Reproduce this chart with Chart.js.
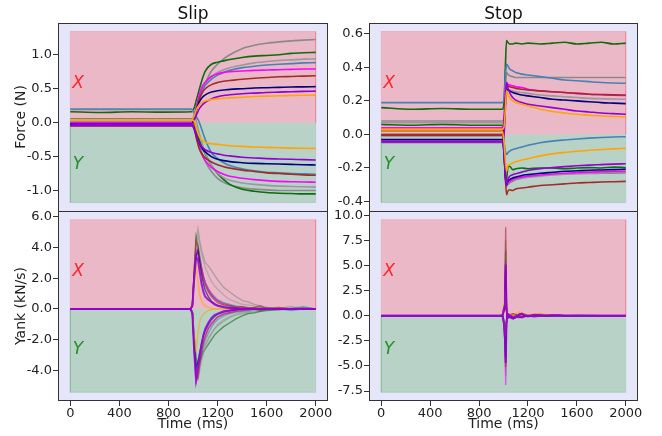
<!DOCTYPE html>
<html>
<head>
<meta charset="utf-8">
<script src="https://cdn.jsdelivr.net/npm/chart.js@4.4.0/dist/chart.umd.min.js"></script>
<style>
  html, body { margin: 0; background: #fff; }
  #wrap { position: relative; width: 662px; height: 436px; }
  #wrap canvas { position: absolute; left: 0; top: 0; }
</style>
</head>
<body>
<div id="wrap">
  <canvas id="slipForce" width="662" height="436"></canvas>
  <canvas id="stopForce" width="662" height="436"></canvas>
  <canvas id="slipYank" width="662" height="436"></canvas>
  <canvas id="stopYank" width="662" height="436"></canvas>
</div>
<script>
// ---- data ----
const timeTicks = [0, 400, 800, 1200, 1600, 2000];
// one colour per trial: gray, green, gray, steelblue, magenta, brown, navy, violet, orange
const seriesColors = ['#8a8a8a', '#0b6e0b', '#9a9a9a', '#4682b4', '#ff00ff', '#a52a2a', '#000080', '#9400d3', '#ffa500'];

// Slip, force (N)
const slipForceTime = [0, 250, 500, 750, 990, 1010, 1030, 1050, 1075, 1100, 1150, 1200, 1250, 1300, 1400, 1500, 1600, 1700, 1800, 1900, 2000];
const slipForceX = [
  [0.03, 0.03, 0.035, 0.03, 0.03, 0.08, 0.2, 0.32, 0.47, 0.58, 0.76, 0.86, 0.94, 1.0, 1.09, 1.14, 1.17, 1.19, 1.205, 1.215, 1.225],
  [0.16, 0.15, 0.16, 0.155, 0.16, 0.22, 0.35, 0.48, 0.64, 0.76, 0.86, 0.89, 0.91, 0.93, 0.96, 0.98, 0.99, 1.0, 1.02, 1.03, 1.035],
  [0.02, 0.02, 0.02, 0.02, 0.02, 0.1, 0.25, 0.38, 0.5, 0.58, 0.68, 0.74, 0.78, 0.81, 0.85, 0.88, 0.9, 0.915, 0.925, 0.935, 0.94],
  [0.05, 0.05, 0.05, 0.05, 0.05, 0.1, 0.24, 0.36, 0.47, 0.55, 0.64, 0.7, 0.74, 0.77, 0.81, 0.83, 0.85, 0.86, 0.87, 0.88, 0.884],
  [0.0, 0.0, 0.0, 0.0, 0.0, 0.08, 0.25, 0.4, 0.53, 0.6, 0.68, 0.72, 0.74, 0.75, 0.76, 0.77, 0.775, 0.78, 0.785, 0.79, 0.79],
  [-0.04, -0.04, -0.04, -0.04, -0.04, 0.05, 0.2, 0.34, 0.44, 0.5, 0.56, 0.59, 0.61, 0.62, 0.64, 0.655, 0.665, 0.675, 0.68, 0.685, 0.69],
  [-0.02, -0.02, -0.02, -0.02, -0.02, 0.06, 0.2, 0.3, 0.37, 0.41, 0.45, 0.47, 0.48, 0.49, 0.5, 0.51, 0.515, 0.52, 0.525, 0.527, 0.53],
  [-0.03, -0.03, -0.03, -0.03, -0.03, 0.04, 0.12, 0.2, 0.26, 0.3, 0.35, 0.38, 0.4, 0.41, 0.425, 0.435, 0.445, 0.45, 0.455, 0.46, 0.464],
  [0.04, 0.04, 0.04, 0.04, 0.04, 0.1, 0.2, 0.26, 0.3, 0.32, 0.34, 0.35, 0.36, 0.365, 0.375, 0.385, 0.39, 0.395, 0.4, 0.403, 0.405]
];
const slipForceY = [
  [0.01, 0.01, 0.01, 0.01, 0.01, -0.05, -0.18, -0.32, -0.46, -0.57, -0.72, -0.82, -0.88, -0.92, -0.96, -0.98, -0.99, -1.0, -1.0, -1.0, -1.0],
  [0.05, 0.05, 0.05, 0.05, 0.05, 0.0, -0.12, -0.25, -0.36, -0.46, -0.63, -0.75, -0.84, -0.91, -0.98, -1.01, -1.03, -1.04, -1.045, -1.05, -1.05],
  [0.19, 0.19, 0.19, 0.19, 0.19, 0.12, 0.0, -0.15, -0.3, -0.45, -0.63, -0.74, -0.81, -0.85, -0.89, -0.91, -0.925, -0.935, -0.94, -0.945, -0.95],
  [0.2, 0.2, 0.2, 0.2, 0.2, 0.15, 0.08, 0.01, -0.12, -0.25, -0.44, -0.53, -0.59, -0.63, -0.68, -0.71, -0.73, -0.74, -0.75, -0.755, -0.76],
  [-0.02, -0.02, -0.02, -0.02, -0.02, -0.08, -0.22, -0.36, -0.48, -0.56, -0.66, -0.72, -0.76, -0.79, -0.82, -0.84, -0.855, -0.865, -0.87, -0.875, -0.878],
  [-0.05, -0.05, -0.05, -0.05, -0.05, -0.1, -0.25, -0.38, -0.47, -0.52, -0.58, -0.62, -0.65, -0.67, -0.7, -0.72, -0.74, -0.75, -0.76, -0.77, -0.776],
  [-0.03, -0.03, -0.03, -0.03, -0.03, -0.08, -0.2, -0.3, -0.38, -0.43, -0.5, -0.54, -0.56, -0.575, -0.59, -0.6, -0.605, -0.61, -0.615, -0.62, -0.624],
  [-0.04, -0.04, -0.04, -0.04, -0.04, -0.08, -0.2, -0.3, -0.36, -0.4, -0.44, -0.46, -0.48, -0.49, -0.51, -0.52, -0.53, -0.535, -0.54, -0.545, -0.55],
  [0.04, 0.04, 0.04, 0.04, 0.04, 0.02, -0.1, -0.2, -0.26, -0.29, -0.31, -0.32, -0.33, -0.34, -0.35, -0.36, -0.365, -0.37, -0.375, -0.378, -0.38]
];
const slipForceSpan = [-1.176, 1.342];
const slipForceTicks = [-1.0, -0.5, 0.0, 0.5, 1.0];

// Stop, force (N)
const stopForceTime = [0, 250, 500, 750, 990, 1005, 1015, 1025, 1035, 1050, 1075, 1100, 1150, 1200, 1300, 1400, 1500, 1600, 1700, 1800, 1900, 2000];
const stopForceX = [
  [0.08, 0.08, 0.08, 0.08, 0.08, 0.1, 0.25, 0.37, 0.36, 0.35, 0.345, 0.34, 0.34, 0.34, 0.34, 0.34, 0.34, 0.34, 0.34, 0.34, 0.34, 0.34],
  [0.16, 0.15, 0.155, 0.15, 0.15, 0.2, 0.4, 0.56, 0.55, 0.54, 0.54, 0.545, 0.54, 0.545, 0.54, 0.545, 0.55, 0.54, 0.545, 0.55, 0.54, 0.545],
  [0.07, 0.07, 0.07, 0.07, 0.07, 0.1, 0.2, 0.27, 0.27, 0.265, 0.26, 0.255, 0.25, 0.245, 0.235, 0.23, 0.225, 0.22, 0.215, 0.213, 0.211, 0.21],
  [0.19, 0.19, 0.19, 0.19, 0.19, 0.22, 0.34, 0.42, 0.41, 0.39, 0.38, 0.37, 0.36, 0.355, 0.345, 0.335, 0.325, 0.32, 0.315, 0.31, 0.307, 0.305],
  [0.04, 0.04, 0.04, 0.04, 0.04, 0.1, 0.25, 0.31, 0.3, 0.295, 0.29, 0.285, 0.28, 0.27, 0.26, 0.255, 0.25, 0.245, 0.24, 0.237, 0.234, 0.232],
  [-0.005, -0.005, -0.005, -0.005, -0.005, 0.05, 0.2, 0.3, 0.29, 0.285, 0.28, 0.275, 0.27, 0.265, 0.26, 0.255, 0.25, 0.245, 0.24, 0.238, 0.236, 0.235],
  [0.02, 0.02, 0.02, 0.02, 0.02, 0.06, 0.18, 0.27, 0.265, 0.26, 0.25, 0.245, 0.235, 0.23, 0.22, 0.21, 0.205, 0.2, 0.195, 0.19, 0.187, 0.184],
  [-0.045, -0.045, -0.045, -0.045, -0.045, 0.0, 0.15, 0.31, 0.28, 0.25, 0.22, 0.205, 0.19, 0.18, 0.17, 0.16, 0.15, 0.14, 0.134, 0.128, 0.124, 0.12],
  [0.03, 0.03, 0.03, 0.03, 0.03, 0.05, 0.15, 0.26, 0.24, 0.22, 0.2, 0.19, 0.18, 0.17, 0.15, 0.137, 0.128, 0.12, 0.115, 0.11, 0.107, 0.105]
];
const stopForceY = [
  [-0.05, -0.05, -0.05, -0.05, -0.05, -0.12, -0.26, -0.31, -0.3, -0.29, -0.28, -0.27, -0.262, -0.256, -0.248, -0.242, -0.238, -0.235, -0.233, -0.232, -0.231, -0.23],
  [0.06, 0.055, 0.06, 0.055, 0.055, -0.1, -0.24, -0.27, -0.2, -0.19, -0.21, -0.205, -0.2, -0.205, -0.2, -0.2, -0.205, -0.2, -0.198, -0.2, -0.195, -0.198],
  [-0.01, -0.01, -0.01, -0.01, -0.01, -0.1, -0.25, -0.29, -0.285, -0.28, -0.272, -0.265, -0.258, -0.252, -0.245, -0.24, -0.235, -0.232, -0.23, -0.228, -0.226, -0.225],
  [0.0, 0.0, 0.0, 0.0, 0.0, -0.05, -0.1, -0.12, -0.11, -0.1, -0.09, -0.085, -0.075, -0.065, -0.05, -0.04, -0.033, -0.027, -0.022, -0.018, -0.015, -0.014],
  [0.03, 0.03, 0.03, 0.03, 0.03, -0.1, -0.24, -0.3, -0.29, -0.28, -0.27, -0.262, -0.255, -0.25, -0.242, -0.236, -0.232, -0.228, -0.225, -0.223, -0.221, -0.22],
  [0.0, 0.0, 0.0, 0.0, 0.0, -0.1, -0.25, -0.36, -0.34, -0.33, -0.335, -0.325, -0.32, -0.315, -0.305, -0.3, -0.295, -0.29, -0.287, -0.284, -0.282, -0.28],
  [-0.03, -0.03, -0.03, -0.03, -0.03, -0.12, -0.25, -0.3, -0.28, -0.27, -0.26, -0.255, -0.245, -0.24, -0.232, -0.226, -0.22, -0.217, -0.214, -0.212, -0.21, -0.208],
  [-0.04, -0.04, -0.04, -0.04, -0.04, -0.12, -0.25, -0.3, -0.27, -0.25, -0.24, -0.235, -0.225, -0.215, -0.205, -0.198, -0.192, -0.187, -0.183, -0.18, -0.177, -0.175],
  [0.02, 0.02, 0.02, 0.02, 0.02, -0.05, -0.15, -0.22, -0.19, -0.18, -0.17, -0.163, -0.153, -0.145, -0.128, -0.116, -0.107, -0.1, -0.094, -0.09, -0.086, -0.083]
];
const stopForceSpan = [-0.406, 0.614];
const stopForceTicks = [-0.4, -0.2, 0.0, 0.2, 0.4, 0.6];

// Slip, yank (kN/s)
const slipYankTime = [0, 980, 995, 1010, 1025, 1040, 1055, 1070, 1085, 1100, 1125, 1150, 1175, 1200, 1250, 1300, 1350, 1400, 1450, 1500, 1550, 1600, 1700, 1800, 1900, 2000];
const slipYankX = [
  [0, 0, 0.2, 2.5, 4.5, 5.2, 4.4, 3.8, 3.4, 3.0, 2.8, 2.5, 2.2, 1.9, 1.4, 1.1, 0.8, 0.55, 0.45, 0.3, 0.2, 0.1, 0.05, 0.15, 0.0, 0.0],
  [0, 0, 0.2, 2.5, 4.7, 4.2, 3.4, 2.7, 2.1, 1.7, 1.2, 0.9, 0.7, 0.55, 0.35, 0.25, 0.15, 0.1, 0.05, 0.1, 0.0, 0.1, 0.0, 0.0, 0.1, 0.0],
  [0, 0, 0.2, 2.2, 4.0, 4.8, 4.2, 3.6, 3.1, 2.7, 2.2, 1.8, 1.5, 1.3, 0.9, 0.6, 0.45, 0.3, 0.25, 0.2, 0.1, 0.05, 0.1, 0.0, 0.05, 0.0],
  [0, 0, 0.2, 2.0, 3.6, 3.9, 3.3, 2.6, 2.1, 1.7, 1.3, 1.0, 0.8, 0.6, 0.4, 0.3, 0.2, 0.15, 0.1, 0.0, 0.1, -0.05, 0.0, 0.05, 0.15, 0.0],
  [0, 0, 0.2, 2.2, 3.8, 3.5, 3.1, 2.6, 2.1, 1.7, 1.3, 1.0, 0.7, 0.5, 0.3, 0.2, 0.1, 0.1, 0.05, 0.0, 0.0, 0.05, 0.0, 0.0, 0.0, 0.0],
  [0, 0, 0.3, 2.5, 4.4, 4.0, 3.2, 2.5, 1.9, 1.5, 1.1, 0.8, 0.6, 0.4, 0.25, 0.2, 0.1, 0.15, 0.05, 0.1, 0.2, 0.0, 0.1, 0.0, 0.0, 0.0],
  [0, 0, 0.2, 2.2, 3.4, 3.8, 3.0, 2.2, 1.6, 1.2, 0.8, 0.5, 0.35, 0.25, 0.15, 0.1, 0.05, 0, 0, 0, 0, 0, 0, 0, 0, 0],
  [0, 0, 0.2, 2.0, 3.4, 3.2, 2.4, 1.6, 1.1, 0.8, 0.6, 0.45, 0.3, 0.2, 0.1, 0.05, 0, 0, 0, 0, 0, 0, 0, 0, 0, 0],
  [0, 0, 0.2, 1.8, 3.0, 1.8, 0.9, 0.5, 0.3, 0.2, 0.1, 0.05, 0, 0, 0, 0, 0, 0, 0, 0, 0, 0, 0, 0, 0, 0]
];
const slipYankY = [
  [0, 0, -0.2, -2.0, -3.5, -3.8, -3.4, -3.0, -2.6, -2.3, -1.9, -1.6, -1.3, -1.1, -0.8, -0.55, -0.4, -0.3, -0.2, -0.1, -0.15, -0.05, 0, -0.05, 0, 0],
  [0, 0, -0.2, -1.8, -3.2, -3.6, -3.4, -3.1, -2.8, -2.6, -2.3, -2.0, -1.7, -1.5, -1.15, -0.9, -0.65, -0.45, -0.3, -0.25, -0.15, -0.1, -0.05, 0, 0, 0],
  [0, 0, -0.3, -2.4, -4.4, -4.6, -4.0, -3.4, -2.9, -2.5, -2.0, -1.6, -1.3, -1.0, -0.7, -0.5, -0.3, -0.2, -0.15, -0.1, -0.05, 0, 0, 0, 0, 0],
  [0, 0, -0.2, -2.0, -3.5, -4.4, -3.6, -3.0, -2.4, -2.0, -1.6, -1.2, -0.9, -0.7, -0.45, -0.3, -0.2, -0.15, -0.1, 0, -0.05, 0, 0, -0.1, 0, 0],
  [0, 0, -0.3, -2.6, -4.9, -4.0, -3.2, -2.6, -2.1, -1.7, -1.2, -0.9, -0.7, -0.5, -0.3, -0.2, -0.1, -0.05, 0, 0, 0, 0, 0, 0, 0, 0],
  [0, 0, -0.3, -2.6, -4.4, -4.5, -3.6, -2.8, -2.2, -1.8, -1.3, -1.0, -0.75, -0.55, -0.35, -0.25, -0.15, -0.1, -0.05, 0, -0.1, 0, 0, 0, 0, 0],
  [0, 0, -0.2, -2.4, -3.8, -3.4, -2.8, -2.2, -1.7, -1.4, -1.0, -0.7, -0.5, -0.35, -0.2, -0.1, -0.05, 0, 0, 0, 0, 0, 0, 0, 0, 0],
  [0, 0, -0.3, -2.8, -4.6, -3.8, -3.0, -2.3, -1.7, -1.3, -0.9, -0.6, -0.4, -0.3, -0.15, -0.1, 0, 0, 0, 0, 0, 0, 0, 0, 0, 0],
  [0, 0, -0.2, -1.6, -2.8, -1.6, -0.8, -0.5, -0.35, -0.25, -0.1, -0.05, 0, 0, 0, 0, 0, 0, 0, 0, 0, 0, 0, 0, 0, 0]
];
const slipYankSpan = [-5.42, 5.8];
const slipYankTicks = [-4.0, -2.0, 0.0, 2.0, 4.0, 6.0];

// Stop, yank (kN/s)
const stopYankTime = [0, 980, 995, 1005, 1012, 1018, 1024, 1032, 1045, 1060, 1080, 1100, 1125, 1150, 1175, 1200, 1250, 1300, 1350, 1400, 1450, 1500, 1600, 1800, 2000];
const stopYankX = [
  [0, 0, 0.1, 0.8, 2.5, 7.5, 1.0, -0.2, 0.0, -0.2, -0.3, -0.2, 0.0, 0.2, 0.1, -0.1, 0.0, 0.15, 0.0, 0.05, 0.1, 0.0, 0.05, 0, 0],
  [0, 0, 0.1, 1.0, 3.0, 6.5, 0.8, -0.2, -0.1, -0.1, -0.2, -0.15, 0.05, 0.15, 0.05, -0.05, 0.05, 0.1, 0.0, 0.0, 0.05, 0.0, 0, 0, 0],
  [0, 0, 0.1, 0.6, 2.2, 6.0, 0.9, -0.1, 0.05, -0.15, -0.25, -0.1, 0.1, 0.25, 0.1, 0.0, 0.1, 0.05, 0.1, 0.0, 0.0, 0.05, 0, 0, 0],
  [0, 0, 0.1, 0.7, 2.0, 5.5, 0.7, -0.1, 0.0, -0.1, -0.15, -0.1, 0.1, 0.2, 0.15, 0.05, 0.1, 0.15, 0.05, 0.1, 0.05, 0.0, 0.05, 0, 0],
  [0, 0, 0.1, 0.9, 2.4, 5.0, 0.9, -0.2, -0.1, -0.2, -0.2, -0.1, 0.15, 0.25, 0.05, 0.0, 0.1, 0.1, 0.0, 0.05, 0.0, 0.0, 0, 0, 0],
  [0, 0, 0.2, 1.0, 3.2, 8.8, 1.2, -0.3, -0.2, 0.0, -0.3, -0.2, 0.1, 0.2, 0.0, -0.1, 0.1, 0.0, 0.1, 0.0, 0.0, 0.0, 0, 0, 0],
  [0, 0, 0.1, 0.6, 1.8, 4.5, 0.6, -0.1, 0.0, -0.1, -0.2, -0.1, 0.05, 0.15, 0.05, 0.0, 0.05, 0.05, 0.0, 0.05, 0.0, 0.0, 0, 0, 0],
  [0, 0, 0.1, 0.8, 2.2, 5.1, 0.8, -0.2, -0.1, -0.2, -0.3, -0.15, 0.1, 0.2, 0.05, -0.05, 0.1, 0.05, 0.0, 0.05, 0.05, 0.0, 0, 0, 0],
  [0, 0, 0.2, 1.2, 2.5, 1.6, 0.4, 0.1, 0.2, 0.1, 0.1, 0.2, 0.4, 0.3, 0.1, 0.1, 0.15, 0.2, 0.1, 0.05, 0.0, 0.0, 0, 0, 0]
];
const stopYankY = [
  [0, 0, -0.1, -0.8, -2.5, -6.0, -0.8, 0.2, 0.1, 0.1, 0.2, 0.1, -0.1, -0.2, -0.1, 0.0, -0.1, -0.05, 0.0, -0.05, 0.0, 0.0, 0, 0, 0],
  [0, 0, -0.1, -1.0, -2.8, -4.5, -0.7, 0.2, 0.1, 0.0, 0.1, 0.1, -0.1, -0.15, -0.05, 0.0, -0.05, 0.0, 0.0, 0.0, 0.0, 0.0, 0, 0, 0],
  [0, 0, -0.1, -0.7, -2.2, -5.5, -0.8, 0.1, 0.0, 0.1, 0.2, 0.05, -0.1, -0.2, -0.05, 0.0, -0.05, -0.05, 0.0, 0.0, 0.0, 0.0, 0, 0, 0],
  [0, 0, -0.1, -0.6, -1.8, -4.0, -0.6, 0.1, 0.0, 0.05, 0.1, 0.05, -0.05, -0.1, 0.0, 0.0, 0.0, -0.05, 0.0, 0.0, 0.0, 0.0, 0, 0, 0],
  [0, 0, -0.2, -1.0, -3.0, -6.9, -1.0, 0.2, 0.1, 0.1, 0.2, 0.1, -0.1, -0.2, -0.1, 0.0, -0.1, 0.0, 0.0, 0.0, 0.0, 0.0, 0, 0, 0],
  [0, 0, -0.1, -0.9, -2.4, -5.1, -0.8, 0.2, 0.1, 0.1, 0.2, 0.1, -0.1, -0.15, -0.05, 0.0, -0.05, 0.0, 0.0, 0.0, 0.0, 0.0, 0, 0, 0],
  [0, 0, -0.1, -0.7, -2.0, -4.2, -0.6, 0.1, 0.0, 0.05, 0.1, 0.05, -0.05, -0.1, 0.0, 0.0, 0.0, 0.0, 0.0, 0.0, 0.0, 0.0, 0, 0, 0],
  [0, 0, -0.1, -0.9, -2.3, -4.7, -0.8, 0.2, 0.1, 0.0, -0.2, -0.1, -0.15, -0.1, 0.0, 0.0, -0.05, 0.0, 0.0, 0.0, 0.0, 0.0, 0, 0, 0],
  [0, 0, -0.1, -0.8, -1.5, -2.0, -0.4, 0.1, 0.0, 0.0, 0.05, 0.0, -0.05, 0.0, 0.0, 0.0, 0.0, 0.0, 0.0, 0.0, 0.0, 0.0, 0, 0, 0]
];
const stopYankSpan = [-7.63, 9.57];
const stopYankTicks = [-7.5, -5.0, -2.5, 0.0, 2.5, 5.0, 7.5, 10.0];

// ---- drawing ----
Chart.defaults.font.family = '"DejaVu Sans", sans-serif';
Chart.defaults.font.size = 13;
Chart.defaults.color = '#222';

function withAlpha(hex, a) {
  const n = parseInt(hex.slice(1), 16);
  return 'rgba(' + (n >> 16) + ',' + ((n >> 8) & 255) + ',' + (n & 255) + ',' + a + ')';
}

// lavender axes background, black frame, column title and the X / Y marks
const panelDecor = {
  id: 'panelDecor',
  beforeDraw(chart) {
    const { ctx, chartArea: a } = chart;
    ctx.save();
    ctx.fillStyle = '#e6e6fa';
    ctx.fillRect(a.left, a.top, a.right - a.left, a.bottom - a.top);
    ctx.restore();
  },
  afterDraw(chart, args, opts) {
    const { ctx, chartArea: a } = chart;
    const w = a.right - a.left, h = a.bottom - a.top;
    ctx.save();
    ctx.strokeStyle = '#333';
    ctx.lineWidth = 1;
    // top-row frames end on the same pixel row where the bottom-row frames start
    ctx.strokeRect(Math.round(a.left) + 0.5, Math.round(a.top) + 0.5, Math.round(w) - 1, Math.round(h) - (opts.title ? 0 : 1));

    if (opts.title) {
      ctx.fillStyle = '#111';
      ctx.font = '17px "DejaVu Sans", sans-serif';
      ctx.textAlign = 'center';
      ctx.textBaseline = 'alphabetic';
      ctx.fillText(opts.title, a.left + w / 2, a.top - 4.5);
    }
    ctx.font = 'italic 17px "DejaVu Sans", sans-serif';
    ctx.textAlign = 'center';
    ctx.textBaseline = 'middle';
    ctx.fillStyle = 'rgba(255,0,0,0.8)';
    ctx.fillText('X', a.left + 20, a.top + 0.32 * h);
    ctx.fillStyle = 'rgba(0,128,0,0.8)';
    ctx.fillText('Y', a.left + 20, a.top + opts.yMarkFrac * h);
    ctx.restore();
  }
};

const panels = [
  { id: 'slipForce', time: slipForceTime, xs: slipForceX, ys: slipForceY, span: slipForceSpan, ticks: slipForceTicks,
    title: 'Slip', yLabel: 'Force (N)', box: [58, 23, 328, 211], bottomRow: false, yank: false },
  { id: 'stopForce', time: stopForceTime, xs: stopForceX, ys: stopForceY, span: stopForceSpan, ticks: stopForceTicks,
    title: 'Stop', yLabel: '', box: [369, 23, 638, 211], bottomRow: false, yank: false },
  { id: 'slipYank', time: slipYankTime, xs: slipYankX, ys: slipYankY, span: slipYankSpan, ticks: slipYankTicks,
    title: '', yLabel: 'Yank (kN/s)', box: [58, 211, 328, 401], bottomRow: true, yank: true },
  { id: 'stopYank', time: stopYankTime, xs: stopYankX, ys: stopYankY, span: stopYankSpan, ticks: stopYankTicks,
    title: '', yLabel: '', box: [369, 211, 638, 401], bottomRow: true, yank: true }
];

const W = 662, H = 436, Y_AXIS_W = 58, X_AXIS_H = 35;

panels.forEach(function (p) {
  const [lo, hi] = p.span;
  const margin = 0.05 * (hi - lo);
  const tMin = timeTicks[0], tMax = timeTicks[timeTicks.length - 1];
  const tMargin = 0.05 * (tMax - tMin);

  const datasets = [
    { data: [{ x: tMin, y: 0 }, { x: tMin, y: hi }, { x: tMax, y: hi }, { x: tMax, y: 0 }],
      fill: 'origin', backgroundColor: 'rgba(255,0,0,0.2)', borderColor: 'rgba(255,0,0,0.15)', borderWidth: 1, order: 1000 },
    { data: [{ x: tMin, y: 0 }, { x: tMin, y: lo }, { x: tMax, y: lo }, { x: tMax, y: 0 }],
      fill: 'origin', backgroundColor: 'rgba(0,128,0,0.2)', borderColor: 'rgba(0,128,0,0.15)', borderWidth: 1, order: 1000 }
  ];
  let k = 0;
  seriesColors.forEach(function (c, i) {
    [p.xs[i], p.ys[i]].forEach(function (vals) {
      const violet = p.yank && i === 7;
      datasets.push({
        data: p.time.map((t, j) => ({ x: t, y: vals[j] })),
        borderColor: p.yank ? withAlpha(c, violet ? 0.85 : 0.6) : c,
        borderWidth: p.yank ? (violet ? 2 : 1.4) : 1.6,
        fill: false,
        cubicInterpolationMode: p.yank ? 'default' : 'monotone',
        tension: 0,
        order: violet ? -10 : 100 - k
      });
      k++;
    });
  });

  const [left, top, right, bottom] = p.box;
  const yAxisW = p.yLabel ? Y_AXIS_W : 42;

  new Chart(document.getElementById(p.id), {
    type: 'line',
    data: { datasets: datasets },
    options: {
      responsive: false,
      devicePixelRatio: 1,
      animation: false,
      events: [],
      layout: {
        padding: {
          left: left - yAxisW,
          top: top,
          right: W - right,
          bottom: p.bottomRow ? 0 : H - bottom
        }
      },
      elements: { point: { radius: 0 } },
      plugins: {
        legend: { display: false },
        tooltip: { enabled: false },
        panelDecor: { title: p.title, yMarkFrac: p.bottomRow ? 0.73 : 0.755 }
      },
      scales: {
        x: {
          type: 'linear',
          min: tMin - tMargin,
          max: tMax + tMargin,
          display: p.bottomRow,
          afterBuildTicks: s => { s.ticks = timeTicks.map(v => ({ value: v })); },
          afterFit: s => { s.height = p.bottomRow ? X_AXIS_H : 0; },
          ticks: { autoSkip: false, maxRotation: 0, padding: 0, color: '#222', callback: v => String(v) },
          grid: { drawOnChartArea: false, drawTicks: true, tickLength: 5, tickColor: '#333' },
          border: { display: false },
          title: { display: true, text: 'Time (ms)', font: { size: 14 }, color: '#222', padding: { top: 0, bottom: 3 } }
        },
        y: {
          type: 'linear',
          min: lo - margin,
          max: hi + margin,
          afterBuildTicks: s => { s.ticks = p.ticks.map(v => ({ value: v })); },
          afterFit: s => { s.width = yAxisW; },
          ticks: { padding: 1, color: '#222', callback: v => v.toFixed(1) },
          grid: { drawOnChartArea: false, drawTicks: true, tickLength: 5, tickColor: '#333' },
          border: { display: false },
          title: { display: !!p.yLabel, text: p.yLabel, font: { size: 14 }, color: '#222', padding: { top: 13, bottom: 0 } }
        }
      }
    },
    plugins: [panelDecor]
  });
});
</script>
</body>
</html>
